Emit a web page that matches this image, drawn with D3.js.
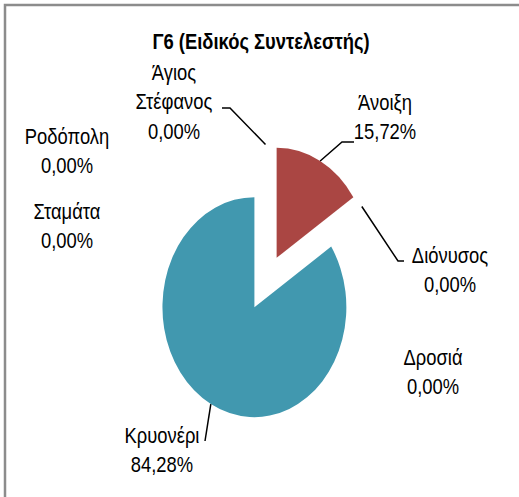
<!DOCTYPE html>
<html>
<head>
<meta charset="utf-8">
<script src="https://cdn.jsdelivr.net/npm/d3@7"></script>
<style>
  body { margin: 0; background: #fff; }
  svg { display: block; }
</style>
</head>
<body>
<div id="chart"></div>
<script>
const chartTitle = 'Γ6 (Ειδικός Συντελεστής)';
const categories = ['Άγιος Στέφανος', 'Άνοιξη', 'Διόνυσος', 'Δροσιά', 'Κρυονέρι', 'Ροδόπολη', 'Σταμάτα'];
const shares = [0, 15.72, 0, 0, 84.28, 0, 0];
const sliceColors = ['#4572A7', '#AA4643', '#89A54E', '#71588F', '#4198AF', '#DB843D', '#93A9CF'];

const width = 519;
const height = 497;
const sx = 0.836;            // the whole chart is squeezed horizontally
const cx = 265.5, cy = 282.5; // pie centre (screen px)
const radius = 110;
const explode = 28;
const lineGap = 29.5;

// label placement (screen px): centre x, first baseline, leader elbow/end
const labelLayout = [
    { x: 174, y: 80, elbow: [230, 108], end: [222, 108] },
    { x: 385, y: 110, elbow: [342, 142], end: [354, 142] },
    { x: 450, y: 263, elbow: [398, 261], end: [404, 261] },
    { x: 433, y: 365 },
    { x: 162, y: 443, end: [205, 441] },
    { x: 67, y: 144 },
    { x: 67, y: 219 }
];
const labelLines = [['Άγιος', 'Στέφανος'], ['Άνοιξη'], ['Διόνυσος'], ['Δροσιά'], ['Κρυονέρι'], ['Ροδόπολη'], ['Σταμάτα']];

const greek = d3.formatLocale({ decimal: ',', thousands: '.', grouping: [3], currency: ['', '€'] });
const pct = greek.format('.2%');

const svg = d3.select('#chart').append('svg')
    .attr('width', width)
    .attr('height', height);

svg.append('rect')
    .attr('x', 5).attr('y', 5)
    .attr('width', 700).attr('height', 700)
    .attr('fill', 'none')
    .attr('stroke', '#8c8c8c')
    .attr('stroke-width', 2.5);

const g = svg.append('g').attr('transform', `scale(${sx},1)`);

g.append('text')
    .attr('x', 261 / sx)
    .attr('y', 49)
    .attr('text-anchor', 'middle')
    .attr('font-family', 'Liberation Sans, Arial, sans-serif')
    .attr('font-weight', 'bold')
    .attr('font-size', 22)
    .attr('fill', '#000')
    .text(chartTitle);

const total = d3.sum(shares);
const pie = d3.pie().sort(null).value(d => d)(shares);
const arc = d3.arc().innerRadius(0).outerRadius(radius);
const ux = cx / sx;

function dir(d) {
    const a = (d.startAngle + d.endAngle) / 2;
    return [Math.sin(a), -Math.cos(a)];
}

g.selectAll('.slice')
    .data(pie)
    .enter().append('path')
    .attr('class', 'slice')
    .attr('d', arc)
    .attr('fill', (d, i) => sliceColors[i])
    .attr('transform', d => {
        const [dx, dy] = dir(d);
        return `translate(${ux + dx * explode},${cy + dy * explode})`;
    });

// leader lines
pie.forEach((d, i) => {
    const lay = labelLayout[i];
    if (!lay.end) return;
    const [dx, dy] = dir(d);
    const pts = [[ux + dx * (radius + explode), cy + dy * (radius + explode)]];
    if (lay.elbow) pts.push([lay.elbow[0] / sx, lay.elbow[1]]);
    pts.push([lay.end[0] / sx, lay.end[1]]);
    g.append('path')
        .attr('d', d3.line()(pts))
        .attr('fill', 'none')
        .attr('stroke', '#000')
        .attr('stroke-width', 1.5)
        .attr('vector-effect', 'non-scaling-stroke');
});

// data labels
const labels = g.selectAll('.label')
    .data(categories)
    .enter().append('text')
    .attr('class', 'label')
    .attr('text-anchor', 'middle')
    .attr('font-family', 'Liberation Sans, Arial, sans-serif')
    .attr('font-size', 22)
    .attr('fill', '#000');

labels.each(function (c, i) {
    const lay = labelLayout[i];
    const lines = labelLines[i].concat([pct(shares[i] / total)]);
    d3.select(this).selectAll('tspan')
        .data(lines)
        .enter().append('tspan')
        .attr('x', lay.x / sx)
        .attr('y', (t, k) => lay.y + k * lineGap)
        .text(t => t);
});
</script>
</body>
</html>
